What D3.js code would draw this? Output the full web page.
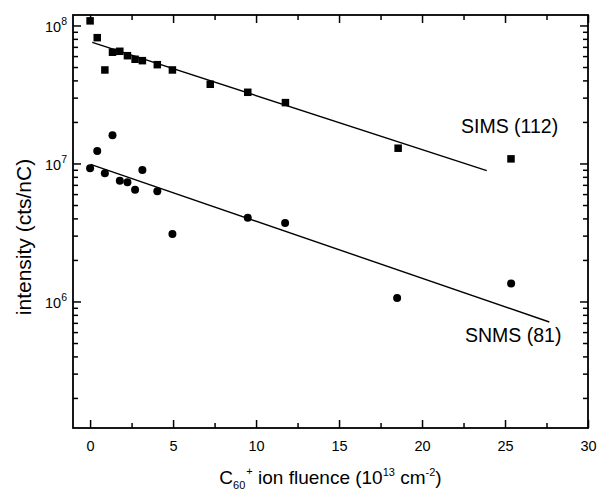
<!DOCTYPE html>
<html>
<head>
<meta charset="utf-8">
<script src="https://cdn.jsdelivr.net/npm/d3@7"></script>
<style>
  html, body { margin: 0; padding: 0; background: #fff; }
  svg { display: block; }
  text { font-family: "Liberation Sans", Arial, Helvetica, sans-serif; fill: #000; }
</style>
</head>
<body>
<svg id="chart" width="599" height="493"></svg>
<script>
// ---- data ----
const simsFluence = [0, 0.43, 0.89, 1.35, 1.79, 2.25, 2.71, 3.15, 4.05, 4.96, 7.24, 9.5, 11.77, 18.56, 25.36];
const simsIntensity = [1.08e8, 8.16e7, 4.76e7, 6.4e7, 6.5e7, 6.04e7, 5.69e7, 5.56e7, 5.2e7, 4.76e7, 3.75e7, 3.28e7, 2.76e7, 1.29e7, 1.08e7];
const snmsFluence = [0, 0.43, 0.89, 1.35, 1.79, 2.25, 2.71, 3.15, 4.05, 4.96, 9.5, 11.75, 18.5, 25.37];
const snmsIntensity = [9.23e6, 1.23e7, 8.49e6, 1.6e7, 7.5e6, 7.31e6, 6.46e6, 8.97e6, 6.3e6, 3.08e6, 4.05e6, 3.71e6, 1.06e6, 1.35e6];
const simsFitX = [0.13, 23.9];
const simsFitY = [7.55e7, 8.87e6];
const snmsFitX = [0.03, 27.67];
const snmsFitY = [9.86e6, 7.1e5];
const xMajorTicks = [0, 5, 10, 15, 20, 25, 30];
const xMinorTicks = [2.5, 7.5, 12.5, 17.5, 22.5, 27.5];
const yMajorExponents = [6, 7, 8];
const yMinorTicks = [2e5,3e5,4e5,5e5,6e5,7e5,8e5,9e5,2e6,3e6,4e6,5e6,6e6,7e6,8e6,9e6,2e7,3e7,4e7,5e7,6e7,7e7,8e7,9e7];
const simsLabel = "SIMS (112)";
const snmsLabel = "SNMS (81)";

// ---- layout ----
const L = 73, R = 588, T = 15, B = 428;
const svg = d3.select("#chart");
const x = d3.scaleLinear().domain([-1.03, 30]).range([L, R]);
const y = d3.scaleLog().domain([1.211e5, 1.191e8]).range([B, T]);

const major = 8, minor = 5;
function styleAxis(g) {
  g.select(".domain").remove();
  g.selectAll("line").attr("stroke", "#000").attr("stroke-width", 1.5);
}
// bottom
svg.append("g").attr("transform", `translate(0,${B})`)
  .call(d3.axisBottom(x).tickValues(xMajorTicks).tickSize(-major).tickPadding(major + 5).tickFormat(d3.format("d")))
  .call(styleAxis)
  .call(g => g.selectAll("text").attr("font-size", 14.5).attr("font-family", "Liberation Sans, Arial, sans-serif").attr("fill", "#000"));
svg.append("g").attr("transform", `translate(0,${B})`)
  .call(d3.axisBottom(x).tickValues(xMinorTicks).tickSize(-minor).tickFormat(""))
  .call(styleAxis);
// top
svg.append("g").attr("transform", `translate(0,${T})`)
  .call(d3.axisTop(x).tickValues(xMajorTicks).tickSize(-major).tickFormat(""))
  .call(styleAxis);
svg.append("g").attr("transform", `translate(0,${T})`)
  .call(d3.axisTop(x).tickValues(xMinorTicks).tickSize(-minor).tickFormat(""))
  .call(styleAxis);
// left
const yMajor = yMajorExponents.map(e => Math.pow(10, e));
const leftG = svg.append("g").attr("transform", `translate(${L},0)`)
  .call(d3.axisLeft(y).tickValues(yMajor).tickSize(-major).tickFormat(""))
  .call(styleAxis);
leftG.selectAll(".tick").each(function(d) {
  const t = d3.select(this).append("text")
    .attr("x", -6).attr("y", 6).attr("text-anchor", "end").attr("font-size", 14.5);
  t.append("tspan").text("10");
  t.append("tspan").attr("font-size", 10.5).attr("dy", -6.5).text(String(Math.round(Math.log10(d))));
});
svg.append("g").attr("transform", `translate(${L},0)`)
  .call(d3.axisLeft(y).tickValues(yMinorTicks).tickSize(-minor).tickFormat(""))
  .call(styleAxis);
// right
svg.append("g").attr("transform", `translate(${R},0)`)
  .call(d3.axisRight(y).tickValues(yMajor).tickSize(-major).tickFormat(""))
  .call(styleAxis);
svg.append("g").attr("transform", `translate(${R},0)`)
  .call(d3.axisRight(y).tickValues(yMinorTicks).tickSize(-minor).tickFormat(""))
  .call(styleAxis);

// frame
svg.append("rect").attr("x", L).attr("y", T).attr("width", R - L).attr("height", B - T)
  .attr("fill", "none").attr("stroke", "#000").attr("stroke-width", 1.8);

// fit lines
const line = d3.line().x(d => x(d[0])).y(d => y(d[1]));
svg.append("path").datum(d3.zip(simsFitX, simsFitY)).attr("d", line)
  .attr("fill", "none").attr("stroke", "#000").attr("stroke-width", 1.4);
svg.append("path").datum(d3.zip(snmsFitX, snmsFitY)).attr("d", line)
  .attr("fill", "none").attr("stroke", "#000").attr("stroke-width", 1.4);

// markers
const sq = 7.5;
svg.append("g").selectAll("rect").data(d3.zip(simsFluence, simsIntensity)).join("rect")
  .attr("x", d => x(d[0]) - sq / 2).attr("y", d => y(d[1]) - sq / 2)
  .attr("width", sq).attr("height", sq).attr("fill", "#000");
svg.append("g").selectAll("circle").data(d3.zip(snmsFluence, snmsIntensity)).join("circle")
  .attr("cx", d => x(d[0])).attr("cy", d => y(d[1])).attr("r", 4).attr("fill", "#000");

// series labels
svg.append("text").attr("x", 461).attr("y", 133).attr("font-size", 19.5).text(simsLabel);
svg.append("text").attr("x", 465).attr("y", 342).attr("font-size", 19.5).text(snmsLabel);

// y title
svg.append("text").attr("transform", `translate(31,237) rotate(-90)`)
  .attr("text-anchor", "middle").attr("font-size", 21).text("intensity (cts/nC)");

// x title
const xt = svg.append("text").attr("x", (L + R) / 2).attr("y", 484).attr("text-anchor", "middle").attr("font-size", 19);
xt.append("tspan").text("C");
xt.append("tspan").attr("font-size", 11).attr("dy", 5).text("60");
xt.append("tspan").attr("font-size", 11).attr("dy", -14).attr("dx", 1).text("+");
xt.append("tspan").attr("dy", 9).text(" ion fluence (10");
xt.append("tspan").attr("font-size", 11).attr("dy", -8).text("13");
xt.append("tspan").attr("dy", 8).text(" cm");
xt.append("tspan").attr("font-size", 11).attr("dy", -8).text("-2");
xt.append("tspan").attr("dy", 8).text(")");
</script>
</body>
</html>
